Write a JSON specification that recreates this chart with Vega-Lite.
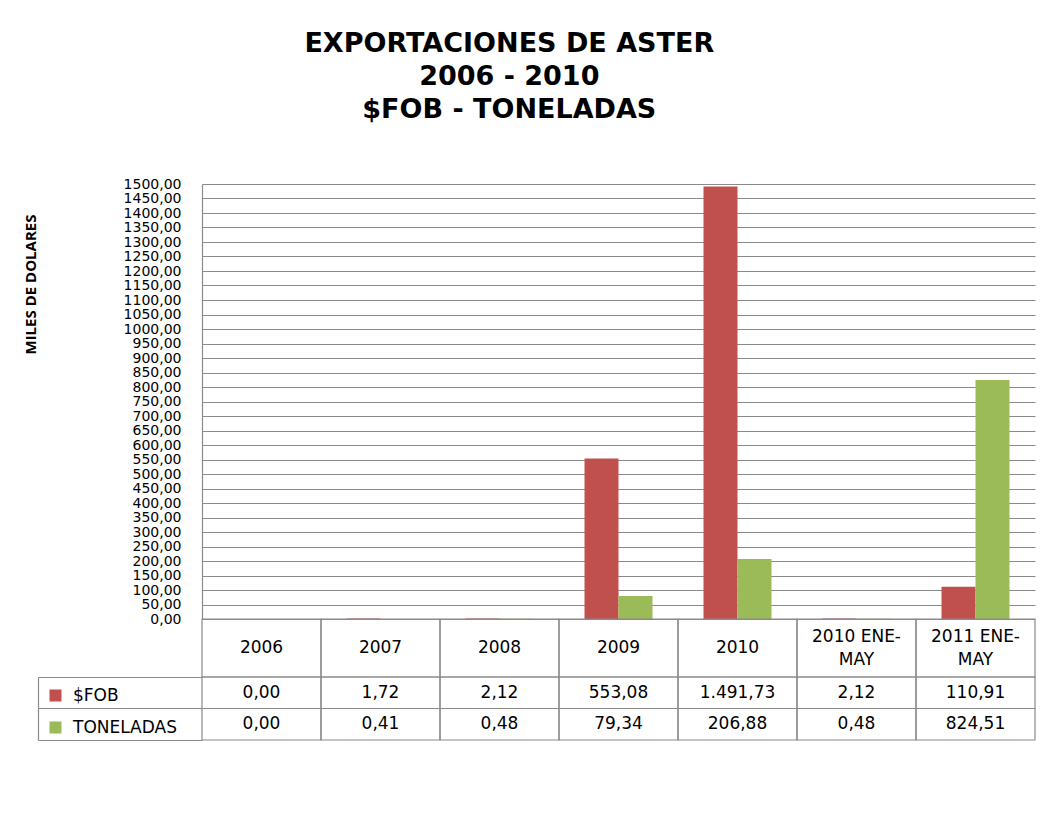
{
  "$schema": "https://vega.github.io/schema/vega-lite/v6.json",
  "padding": {"left": 23, "top": 30, "right": 5, "bottom": 5},
  "background": "white",
  "bounds": "flush",
  "title": {
    "text": ["EXPORTACIONES DE ASTER", "2006 - 2010", "$FOB - TONELADAS"],
    "font": "DejaVu Sans",
    "fontSize": 27,
    "fontWeight": "bold",
    "color": "black",
    "lineHeight": 33,
    "anchor": "middle",
    "offset": 53,
    "dx": -20
  },
  "datasets": {
    "d": [
      {"cat": "2006", "serie": "$FOB", "valor": 0.0},
      {"cat": "2006", "serie": "TONELADAS", "valor": 0.0},
      {"cat": "2007", "serie": "$FOB", "valor": 1.72},
      {"cat": "2007", "serie": "TONELADAS", "valor": 0.41},
      {"cat": "2008", "serie": "$FOB", "valor": 2.12},
      {"cat": "2008", "serie": "TONELADAS", "valor": 0.48},
      {"cat": "2009", "serie": "$FOB", "valor": 553.08},
      {"cat": "2009", "serie": "TONELADAS", "valor": 79.34},
      {"cat": "2010", "serie": "$FOB", "valor": 1491.73},
      {"cat": "2010", "serie": "TONELADAS", "valor": 206.88},
      {"cat": "2010 ENE-MAY", "serie": "$FOB", "valor": 2.12},
      {"cat": "2010 ENE-MAY", "serie": "TONELADAS", "valor": 0.48},
      {"cat": "2011 ENE-MAY", "serie": "$FOB", "valor": 110.91},
      {"cat": "2011 ENE-MAY", "serie": "TONELADAS", "valor": 824.51}
    ]
  },
  "config": {
    "locale": {
      "number": {"decimal": ",", "thousands": ".", "grouping": [3], "currency": ["$", ""]}
    }
  },
  "spacing": 0,
  "vconcat": [
    {
      "width": 833,
      "height": 435,
      "data": {"name": "d"},
      "view": {"stroke": null},
      "mark": {"type": "bar"},
      "encoding": {
        "x": {
          "field": "cat",
          "type": "nominal",
          "sort": null,
          "scale": {
            "domain": ["2006", "2007", "2008", "2009", "2010", "2010 ENE-MAY", "2011 ENE-MAY"],
            "paddingInner": 0,
            "paddingOuter": 0
          },
          "axis": null
        },
        "xOffset": {
          "field": "serie",
          "type": "nominal",
          "sort": null,
          "scale": {"domain": ["$FOB", "TONELADAS"], "paddingInner": 0, "paddingOuter": 0.75}
        },
        "y": {
          "field": "valor",
          "type": "quantitative",
          "scale": {"domain": [0, 1500], "nice": false},
          "axis": {
            "title": "MILES DE DOLARES",
            "titleFont": "Open Sans",
            "titleFontWeight": "bold",
            "titleFontSize": 15,
            "titleColor": "black",
            "titleAngle": 270,
            "titleX": -172,
            "titleY": 100,
            "titleAlign": "center",
            "titleBaseline": "middle",
            "tickCount": 30,
            "format": ".2f",
            "labelFont": "DejaVu Sans",
            "labelFontSize": 14,
            "labelColor": "black",
            "labelPadding": 21,
            "labelOverlap": false,
            "labelFlush": false,
            "ticks": false,
            "grid": true,
            "gridColor": "#8a8a8a",
            "gridWidth": 1.2,
            "domain": true,
            "domainColor": "#8a8a8a",
            "domainWidth": 1.2
          }
        },
        "color": {
          "field": "serie",
          "type": "nominal",
          "scale": {"domain": ["$FOB", "TONELADAS"], "range": ["#C0504D", "#9BBB59"]},
          "legend": {
            "title": null,
            "orient": "none",
            "legendX": -155,
            "legendY": 503,
            "symbolType": "square",
            "symbolSize": 144,
            "symbolStrokeWidth": 0,
            "labelFont": "DejaVu Sans",
            "labelFontSize": 17,
            "labelColor": "black",
            "labelOffset": 9,
            "rowPadding": 14,
            "padding": 0
          }
        }
      }
    },
    {
      "width": 833,
      "height": 58,
      "data": {"name": "d"},
      "view": {"stroke": null},
      "transform": [
        {"filter": "datum.serie == '$FOB'"},
        {"calculate": "replace(datum.cat, 'ENE-', 'ENE-|')", "as": "etiqueta"}
      ],
      "encoding": {
        "x": {
          "field": "cat",
          "type": "nominal",
          "sort": null,
          "scale": {
            "domain": ["2006", "2007", "2008", "2009", "2010", "2010 ENE-MAY", "2011 ENE-MAY"],
            "paddingInner": 0,
            "paddingOuter": 0
          },
          "axis": null
        }
      },
      "layer": [
        {"mark": {"type": "rect", "fill": "transparent", "stroke": "#8a8a8a", "strokeWidth": 1.2}},
        {
          "transform": [{"filter": "length(datum.cat) <= 4"}],
          "mark": {"type": "text", "font": "DejaVu Sans", "fontSize": 17, "color": "black", "baseline": "middle", "align": "center"},
          "encoding": {"text": {"field": "etiqueta", "type": "nominal"}}
        },
        {
          "transform": [{"filter": "length(datum.cat) > 4"}],
          "mark": {"type": "text", "font": "DejaVu Sans", "fontSize": 17, "color": "black", "baseline": "middle", "align": "center", "lineBreak": "|", "lineHeight": 23, "dy": -11.5},
          "encoding": {"text": {"field": "etiqueta", "type": "nominal"}}
        }
      ]
    },
    {
      "width": 833,
      "height": 63,
      "data": {"name": "d"},
      "view": {"stroke": null},
      "encoding": {
        "x": {
          "field": "cat",
          "type": "nominal",
          "sort": null,
          "scale": {
            "domain": ["2006", "2007", "2008", "2009", "2010", "2010 ENE-MAY", "2011 ENE-MAY"],
            "paddingInner": 0,
            "paddingOuter": 0
          },
          "axis": null
        },
        "y": {
          "field": "serie",
          "type": "nominal",
          "sort": null,
          "scale": {"domain": ["$FOB", "TONELADAS"], "paddingInner": 0, "paddingOuter": 0},
          "axis": {
            "title": null,
            "labels": false,
            "orient": "left",
            "offset": 164,
            "tickSize": -164,
            "bandPosition": 1,
            "tickExtra": true,
            "domain": true,
            "domainColor": "#8a8a8a",
            "domainWidth": 1.2,
            "tickColor": "#8a8a8a",
            "tickWidth": 1.2,
            "grid": false
          }
        }
      },
      "layer": [
        {"mark": {"type": "rect", "fill": "transparent", "stroke": "#8a8a8a", "strokeWidth": 1.2}},
        {
          "mark": {"type": "text", "font": "DejaVu Sans", "fontSize": 17, "color": "black", "baseline": "middle", "align": "center"},
          "encoding": {"text": {"field": "valor", "type": "quantitative", "format": ",.2f"}}
        }
      ]
    }
  ]
}
